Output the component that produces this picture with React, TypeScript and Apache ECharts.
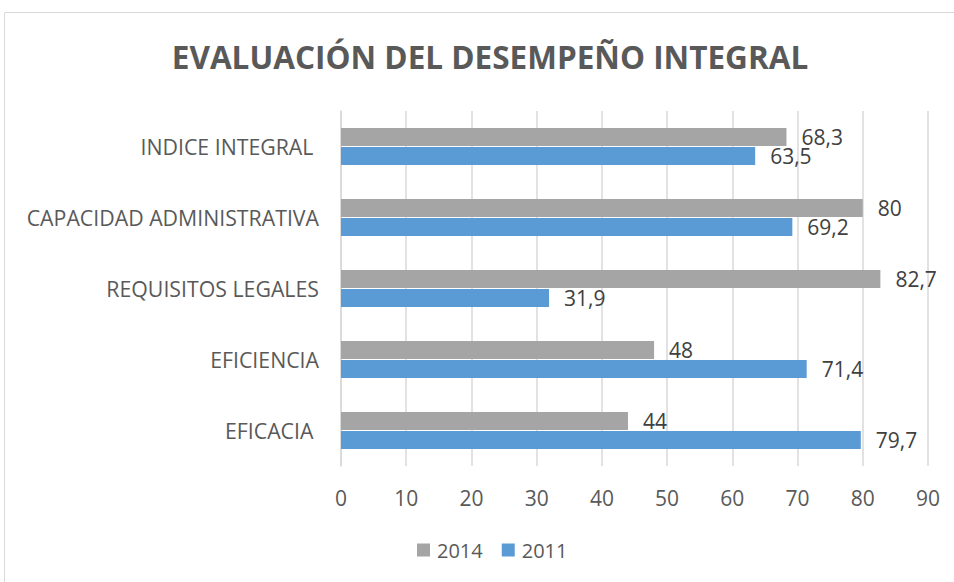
import React, { useEffect, useRef } from "react";
import * as echarts from "echarts";

const TITLE = "EVALUACIÓN DEL DESEMPEÑO INTEGRAL";
const CATEGORIES = [
  "INDICE INTEGRAL ",
  "CAPACIDAD ADMINISTRATIVA",
  "REQUISITOS LEGALES",
  "EFICIENCIA",
  "EFICACIA ",
];
const SERIES_NAMES = ["2014", "2011"];
const VALUES_2014 = [68.3, 80, 82.7, 48, 44];
const VALUES_2011 = [63.5, 69.2, 31.9, 71.4, 79.7];
const X_MIN = 0;
const X_MAX = 90;
const X_STEP = 10;

const fmt = (v: number) => String(v).replace(".", ",");

export default function App() {
  const ref = useRef<HTMLDivElement>(null);
  useEffect(() => {
    if (!ref.current) return;
    const chart = echarts.init(ref.current, null, { renderer: "svg" });
    const labelStyle = {
      show: true,
      position: "right",
      distance: 15,
      color: "#404040",
      fontSize: 21,
      fontFamily: "Open Sans",
      formatter: (p: any) => fmt(p.value),
    };
    chart.setOption({
      animation: false,
      backgroundColor: "#ffffff",
      graphic: [
        {
          type: "rect",
          shape: { x: 4.5, y: 12.5, width: 980, height: 600 },
          style: { fill: "none", stroke: "#d9d9d9", lineWidth: 1 },
          silent: true,
        },
      ],
      title: {
        text: TITLE,
        left: 485,
        textAlign: "center",
        top: 35,
        textStyle: {
          fontFamily: "Open Sans",
          fontWeight: "bold",
          fontSize: 31.5,
          color: "#595959",
        },
      },
      legend: {
        data: SERIES_NAMES,
        top: 535,
        left: 412,
        itemWidth: 13,
        itemHeight: 13,
        itemGap: 19,
        icon: "rect",
        textStyle: { fontFamily: "Open Sans", fontSize: 20, color: "#595959", padding: [0, 0, 0, 2] },
      },
      grid: { left: 341, right: 26, top: 111, bottom: 116 },
      xAxis: {
        type: "value",
        min: X_MIN,
        max: X_MAX,
        interval: X_STEP,
        axisLine: { show: false },
        axisTick: { show: false },
        splitLine: { show: true, lineStyle: { color: "#d9d9d9", width: 1.5 } },
        axisLabel: {
          fontFamily: "Open Sans",
          fontSize: 21,
          color: "#595959",
          margin: 21,
        },
      },
      yAxis: {
        type: "category",
        data: CATEGORIES,
        inverse: true,
        axisLine: { show: true, lineStyle: { color: "#d9d9d9", width: 1.5 } },
        axisTick: { show: false },
        axisLabel: {
          fontFamily: "Open Sans",
          fontSize: 21.3,
          color: "#595959",
          margin: 22,
        },
      },
      series: [
        {
          name: SERIES_NAMES[0],
          type: "bar",
          data: VALUES_2014,
          barWidth: 18,
          barGap: "5%",
          itemStyle: { color: "#a5a5a5" },
          label: labelStyle,
        },
        {
          name: SERIES_NAMES[1],
          type: "bar",
          data: VALUES_2011,
          barWidth: 18,
          barGap: "5%",
          itemStyle: { color: "#5b9bd5" },
          label: labelStyle,
        },
      ],
    });
    return () => chart.dispose();
  }, []);
  return (
    <div
      ref={ref}
      style={{ position: "fixed", left: 0, top: 0, width: 954, height: 582 }}
    />
  );
}
